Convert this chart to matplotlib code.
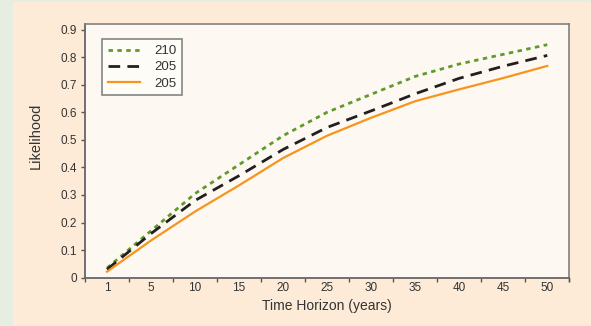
import matplotlib
matplotlib.use("Agg")
import matplotlib.pyplot as plt
from matplotlib.patches import Rectangle
import numpy as np

# Horizon categories (years) and likelihood series
horizons = ["1", "5", "10", "15", "20", "25", "30", "35", "40", "45", "50"]
series_names = ["210", "205", "205"]
green_210 = [0.035, 0.17, 0.305, 0.41, 0.515, 0.60, 0.665, 0.73, 0.775, 0.81, 0.845]
black_205 = [0.03, 0.16, 0.28, 0.37, 0.465, 0.545, 0.605, 0.667, 0.723, 0.767, 0.806]
orange_205 = [0.022, 0.135, 0.24, 0.335, 0.434, 0.515, 0.58, 0.64, 0.683, 0.724, 0.768]
y_ticks = [0, 0.1, 0.2, 0.3, 0.4, 0.5, 0.6, 0.7, 0.8, 0.9]
y_tick_labels = ["0", "0.1", "0.2", "0.3", "0.4", "0.5", "0.6", "0.7", "0.8", "0.9"]

plt.rcParams["font.family"] = ["Liberation Sans", "DejaVu Sans"]

fig = plt.figure(figsize=(5.91, 3.26), dpi=100, facecolor="#fdebd7")
# light green margin strips
fig.patches.append(Rectangle((0, 0), 13 / 591, 1, transform=fig.transFigure,
                             facecolor="#e6eee2", edgecolor="none", zorder=0))
fig.patches.append(Rectangle((0, 1 - 2 / 326), 1, 2 / 326, transform=fig.transFigure,
                             facecolor="#e6eee2", edgecolor="none", zorder=0))

ax = fig.add_axes([85 / 591, 1 - 277.7 / 326, (569.3 - 85) / 591, (277.7 - 24) / 326])
ax.set_facecolor("#fdf9f2")

x = np.arange(len(horizons))
ax.plot(x, green_210, color="#5f9a2c", lw=2.0, linestyle=(0, (1.6, 1.6)),
        label=series_names[0])
ax.plot(x, black_205, color="#231f20", lw=2.0, linestyle=(0, (4.2, 2.6)),
        label=series_names[1])
ax.plot(x, orange_205, color="#f7941d", lw=1.6, linestyle="-",
        label=series_names[2])

ax.set_xlim(-0.5, 10.36)
ax.set_ylim(0, 0.92)

ax.set_yticks(y_ticks)
ax.set_yticklabels(y_tick_labels)
ax.set_xticks(x)
ax.set_xticklabels(horizons)
ax.set_xticks(np.arange(-0.5, len(horizons), 1.0), minor=True)

ax.tick_params(axis="x", which="major", length=0, pad=3, labelsize=8.5, labelcolor="#333333")
ax.tick_params(axis="x", which="minor", length=3, width=1, color="#555555", direction="out")
ax.tick_params(axis="y", which="major", length=3, width=1, color="#555555", pad=3,
               labelsize=8.5, labelcolor="#333333")

# boundary tick past the last category
ax.plot([10.5, 10.5], [0, -0.012], transform=ax.get_xaxis_transform(),
        color="#555555", lw=1, clip_on=False)

for side in ["left", "bottom"]:
    ax.spines[side].set_color("#666666")
    ax.spines[side].set_linewidth(1.3)
for side in ["top", "right"]:
    ax.spines[side].set_color("#808080")
    ax.spines[side].set_linewidth(1.2)

ax.set_xlabel("Time Horizon (years)", fontsize=10, color="#333333")
ax.xaxis.set_label_coords(0.5, -0.085, transform=ax.transAxes)
ax.xaxis.label.set_va("top")
ax.set_ylabel("Likelihood", fontsize=10.5, color="#333333")
ax.yaxis.label.set_va("center")
ax.yaxis.set_label_coords(-0.101, 0.56)

leg = ax.legend(loc="upper left", bbox_to_anchor=(0.035, 0.941), borderaxespad=0,
                fontsize=9.5, frameon=True, fancybox=False, handlelength=2.4,
                handletextpad=1.1, borderpad=0.45, labelspacing=0.3)
leg.get_frame().set_edgecolor("#666666")
leg.get_frame().set_linewidth(1.2)
leg.get_frame().set_facecolor("#fffdf9")
for t in leg.get_texts():
    t.set_color("#333333")

fig.savefig("out.png", dpi=100, facecolor=fig.get_facecolor())
